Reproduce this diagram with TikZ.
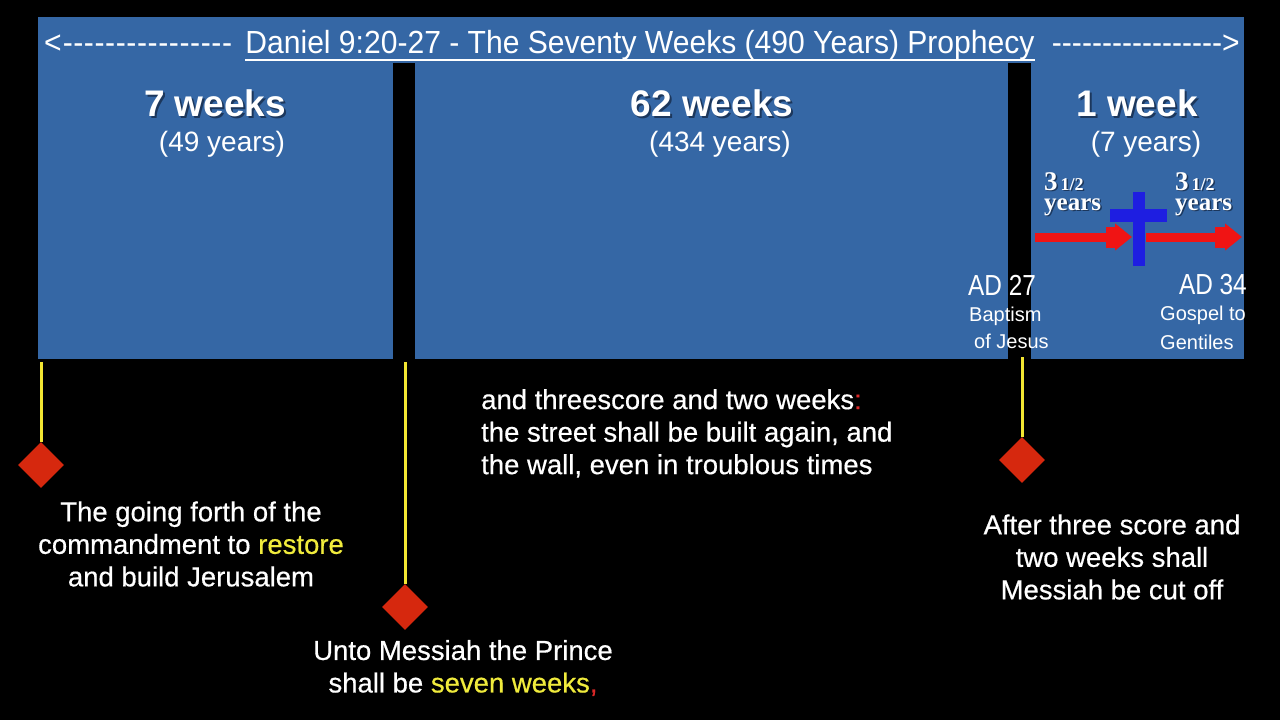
\documentclass[tikz,border=0pt]{standalone}
\usepackage{fontspec}
\setmainfont{Liberation Sans}
\newfontfamily\narrowfont[FakeStretch=0.84]{Liberation Sans}
\newfontfamily\titlefont[FakeStretch=0.94]{Liberation Sans}
\newfontfamily\bodyfont[FakeBold=0.5]{Liberation Sans}
\newfontfamily\serifbold{Liberation Serif Bold}
\usetikzlibrary{shapes.geometric,arrows.meta}
\definecolor{panel}{RGB}{53,103,165}
\definecolor{shadowblue}{RGB}{28,55,92}
\definecolor{hiyellow}{RGB}{240,235,60}
\definecolor{lineyellow}{RGB}{242,230,50}
\definecolor{diamred}{RGB}{214,40,14}
\definecolor{crossblue}{RGB}{30,30,225}
\definecolor{arrowred}{RGB}{240,20,20}
\definecolor{colonred}{RGB}{220,40,40}
\newcommand\shadowed[2]{\makebox[0pt][l]{\hspace*{#1}\raisebox{-#1}{\textcolor{shadowblue}{#2}}}#2}
\tikzset{
  txt/.style={text=white, inner sep=0pt},
  head/.style={txt, font=\bfseries\fontsize{37}{40}\selectfont},
  sub/.style={txt, font=\fontsize{28}{32}\selectfont},
  body/.style={txt, align=center, font=\bodyfont\fontsize{27.5}{32.5}\selectfont},
  marker/.style={diamond, fill=diamred, inner sep=0pt, minimum width=46pt, minimum height=46pt},
  tick/.style={lineyellow, line width=3pt},
  titletxt/.style={txt, font=\titlefont\fontsize{32}{36}\selectfont},
  halfyr/.style={txt, font=\serifbold},
  redarrow/.style={arrowred, line width=9pt, -{Triangle[length=17pt,width=26pt]}}
}
\newcommand\threehalf{\shadowed{1.5pt}{\fontsize{27}{27}\selectfont 3\hspace{3pt}{\fontsize{18}{18}\selectfont 1/2}}}
\newcommand\yrs{\shadowed{1.5pt}{\fontsize{25}{25}\selectfont years}}
\begin{document}
\begin{tikzpicture}[x=1pt,y=-1pt]
\useasboundingbox (0,0) rectangle (1280,720);
\fill[black] (0,0) rectangle (1280,720);
% panel
\fill[panel] (38,17) rectangle (1244,359);
\fill[black] (393,63) rectangle (415,359);
\fill[black] (1008,63) rectangle (1031,359);

% title
\node[titletxt, anchor=base] (title) at (640,53)
  {Daniel 9:20-27 - The Seventy Weeks (490 Years) Prophecy};
\draw[white, line width=1.5pt] ([yshift=-7pt]title.base west) -- ([yshift=-7pt]title.base east);
\node[titletxt, anchor=base west] (ldash) at (44,53) {<\hspace{1pt}-\hspace{0.6pt}-\hspace{0.6pt}-\hspace{0.6pt}-\hspace{0.6pt}-\hspace{0.6pt}-\hspace{0.6pt}-\hspace{0.6pt}-\hspace{0.6pt}-\hspace{0.6pt}-\hspace{0.6pt}-\hspace{0.6pt}-\hspace{0.6pt}-\hspace{0.6pt}-\hspace{0.6pt}-\hspace{0.6pt}-};
\node[titletxt, anchor=base east] (rdash) at (1240,53) {----------------->};

% headings
\node[head] (h1) at (215,104) {\shadowed{2pt}{7 weeks}};
\node[sub] (s1) at (222,144) {(49 years)};
\node[head] (h2) at (712,104) {\shadowed{2pt}{62 weeks}};
\node[sub] (s2) at (720,144) {(434 years)};
\node[head] (h3) at (1137,104) {\shadowed{2pt}{1 week}};
\node[sub] (s3) at (1146,144) {(7 years)};

% 3 1/2 years
\node[halfyr, anchor=base west] (a1) at (1044,190) {\threehalf};
\node[halfyr, anchor=base west] (b1) at (1044,210) {\yrs};
\node[halfyr, anchor=base west] (a2) at (1175,190) {\threehalf};
\node[halfyr, anchor=base west] (b2) at (1175,210) {\yrs};

% red arrows
\draw[redarrow] (1035,237) -- (1132,237);
\fill[arrowred] (1106,227) rectangle (1116,248);
\draw[redarrow] (1146,237) -- (1242,237);
\fill[arrowred] (1215,227) rectangle (1225,248);

% cross
\fill[crossblue] (1133,192) rectangle (1145,266);
\fill[crossblue] (1110,209) rectangle (1167,222);

% AD labels
\node[txt, anchor=west, font=\narrowfont\fontsize{29}{32}\selectfont] (ad27) at (968,285) {AD 27};
\node[txt, anchor=north west, align=left, font=\fontsize{20}{27}\selectfont] (bap) at (969,307) {Baptism\\\hspace*{5pt}of Jesus};
\node[txt, anchor=east, font=\narrowfont\fontsize{29}{32}\selectfont] (ad34) at (1247,285) {AD 34};
\node[txt, anchor=north west, align=left, font=\fontsize{20}{29}\selectfont] (gos) at (1160,306) {Gospel to\\Gentiles};

% markers
\coordinate (p1) at (41,362);
\coordinate (p2) at (405,362);
\coordinate (p3) at (1022,357);
\node[marker] (d1) at (41,465) {};
\node[marker] (d2) at (405,607) {};
\node[marker] (d3) at (1022,460) {};
\draw[tick] (p1) -- (d1.north);
\draw[tick] (p2) -- (d2.north);
\draw[tick] (p3) -- (d3.north);

% texts
\node[body] (t1) at (191,544) {The going forth of the\\commandment to \textcolor{hiyellow}{restore}\\and build Jerusalem};
\node[body] (t2) at (463,668) {Unto Messiah the Prince\\shall be \textcolor{hiyellow}{seven weeks}\textcolor{colonred}{,}};
\node[body, align=left, anchor=north west] (t3) at (481,389) {and threescore and two weeks\textcolor{colonred}{:}\\the street shall be built again, and\\the wall, even in troublous times};
\node[body] (t4) at (1112,557) {After three score and\\two weeks shall\\Messiah be cut off};
\end{tikzpicture}
\end{document}
